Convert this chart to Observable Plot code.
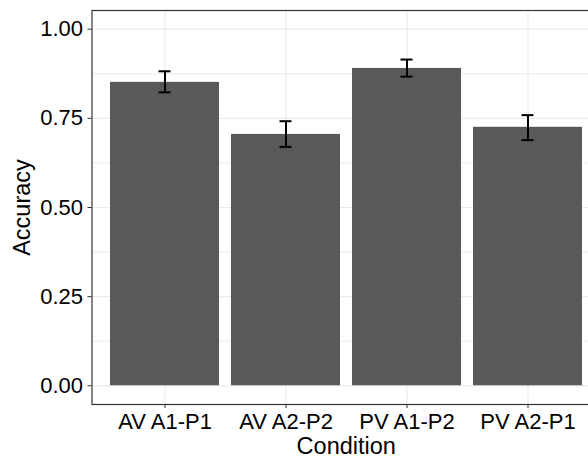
<!DOCTYPE html>
<html>
<head>
<meta charset="utf-8">
<script src="https://cdn.jsdelivr.net/npm/d3@7"></script>
<script src="https://cdn.jsdelivr.net/npm/@observablehq/plot@0.6"></script>
<style>
html, body { margin: 0; padding: 0; overflow: hidden; background: white; }
svg { max-width: none !important; }
</style>
</head>
<body>
<div id="chart"></div>
<script>
const conditions = ["AV A1-P1", "AV A2-P2", "PV A1-P2", "PV A2-P1"];
const accuracy = [0.851, 0.705, 0.890, 0.725];
const lower = [0.823, 0.670, 0.867, 0.689];
const upper = [0.882, 0.742, 0.915, 0.759];
const yTicks = [0, 0.25, 0.5, 0.75, 1.0];
const yMinor = [0.125, 0.375, 0.625, 0.875];

const data = conditions.map((c, i) => ({condition: c, acc: accuracy[i], lo: lower[i], hi: upper[i]}));

const chart = Plot.plot({
  width: 600,
  height: 458,
  marginLeft: 91.5,
  marginRight: 0,
  marginTop: 10,
  marginBottom: 54,
  style: {fontFamily: "'Liberation Sans', Arial, sans-serif", background: "white", overflow: "visible"},
  x: {domain: conditions, paddingInner: 0.1, paddingOuter: 0.15},
  y: {domain: [-0.0525, 1.0525]},
  marks: [
    Plot.gridY(yMinor, {stroke: "#EBEBEB", strokeOpacity: 1, strokeWidth: 1}),
    Plot.gridY(yTicks, {stroke: "#EBEBEB", strokeOpacity: 1, strokeWidth: 1.2}),
    Plot.gridX(conditions, {stroke: "#EBEBEB", strokeOpacity: 1, strokeWidth: 1.2}),
    Plot.barY(data, {x: "condition", y: "acc", fill: "#595959"}),
    Plot.ruleX(data, {x: "condition", y1: "lo", y2: "hi", stroke: "black", strokeWidth: 2}),
    Plot.tickY(data, {x: "condition", y: "lo", stroke: "black", strokeWidth: 2, insetLeft: 48.5, insetRight: 48.5}),
    Plot.tickY(data, {x: "condition", y: "hi", stroke: "black", strokeWidth: 2, insetLeft: 48.5, insetRight: 48.5}),
    Plot.frame({stroke: "#333333", strokeWidth: 1.2}),
    Plot.axisY(yTicks, {tickFormat: d3.format(".2f"), tickSize: 4, tickPadding: 5, fontSize: 22, fill: "black", stroke: "#333333",
      label: "Accuracy", labelAnchor: "center", labelOffset: 79, labelArrow: "none"}),
    Plot.axisX(conditions, {tickSize: 4, tickPadding: 5, fontSize: 22, fill: "black", stroke: "#333333",
      label: "Condition", labelAnchor: "center", labelOffset: 49.5, labelArrow: "none"})
  ]
});
document.getElementById("chart").appendChild(chart);
const svg = d3.select(chart);
svg.selectAll("g[aria-label='y-axis tick label'], g[aria-label='x-axis tick label']")
  .attr("font-size", 22).attr("fill", "black");
svg.selectAll("g[aria-label='y-axis label'], g[aria-label='x-axis label']")
  .attr("font-size", 23.5).attr("fill", "black");
</script>
</body>
</html>
